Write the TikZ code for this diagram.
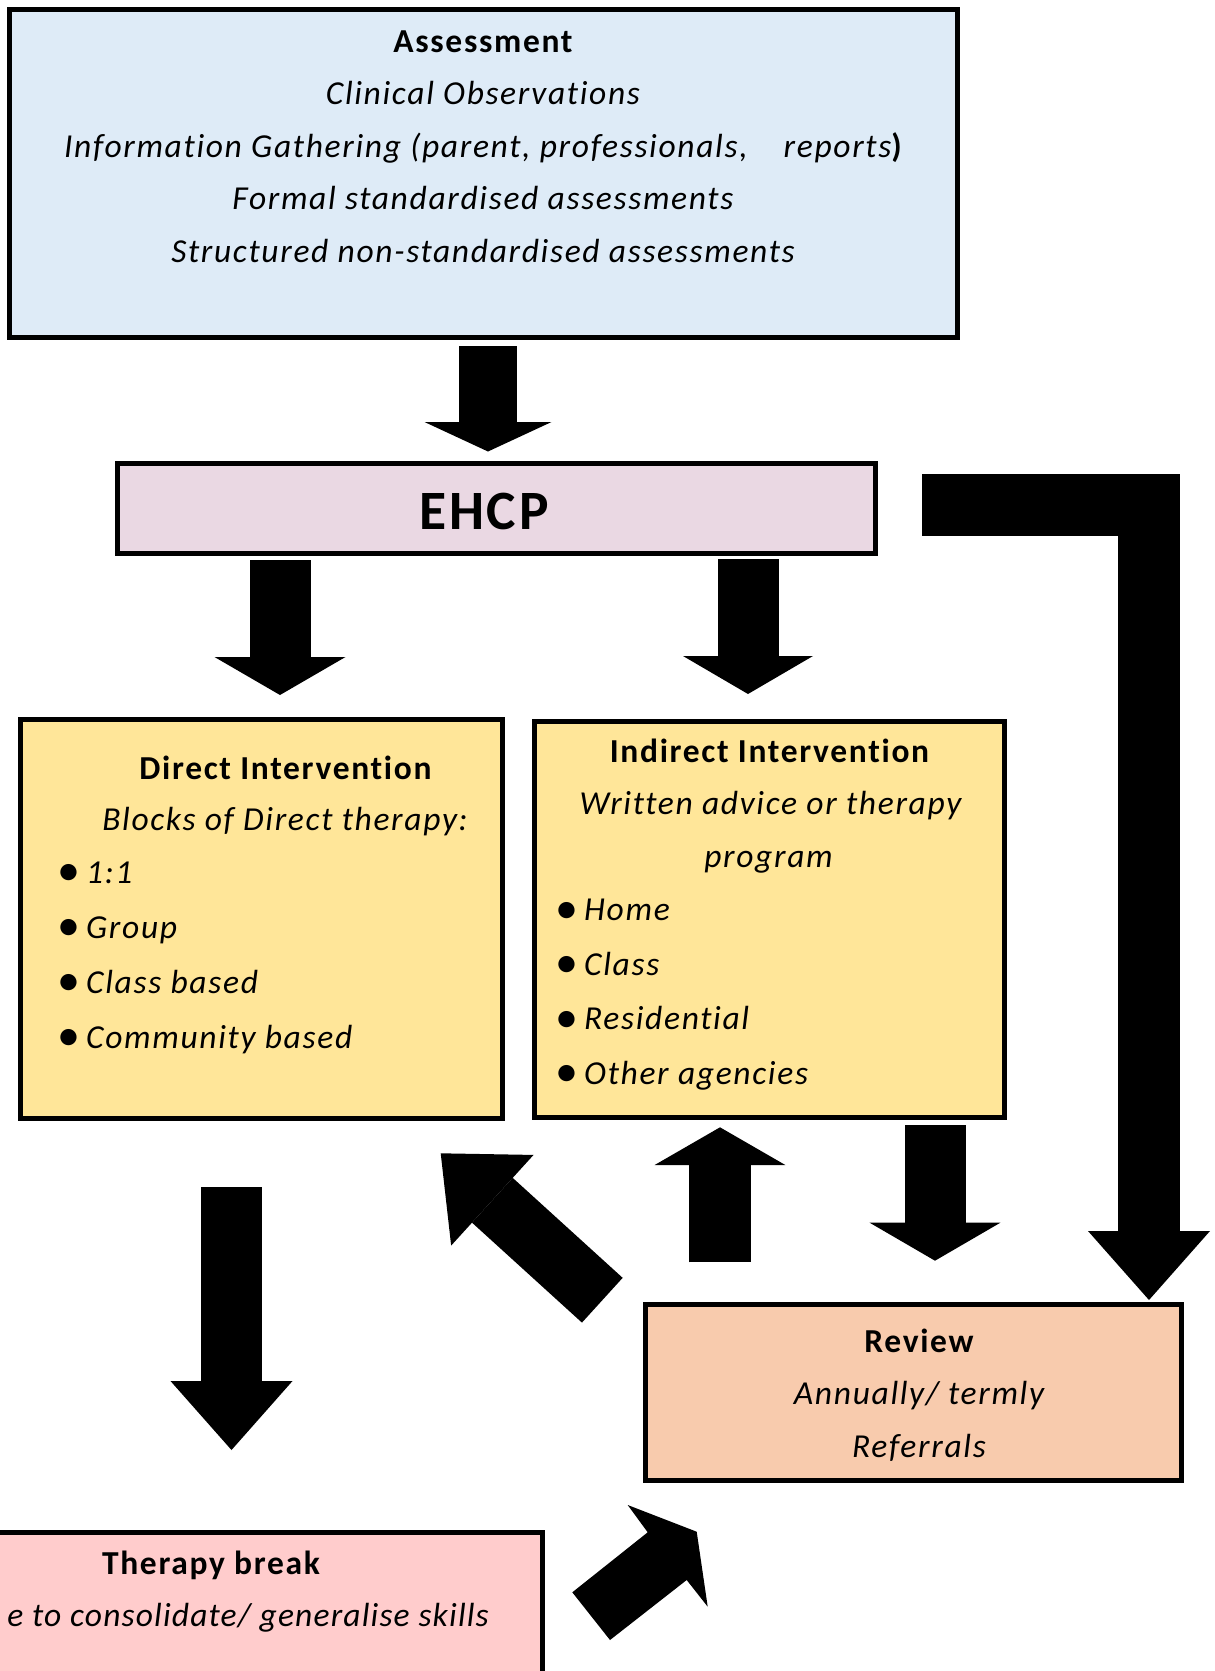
\documentclass[tikz,border=0pt]{standalone}
\usepackage{fontspec}
\setmainfont{Carlito}[Ligatures=NoCommon,LetterSpace=5]
\usepackage{xcolor}
\usetikzlibrary{arrows.meta}
\definecolor{ASSESS-BLUE}{HTML}{DEEBF7}
\definecolor{EHCP-PINK}{HTML}{EAD8E3}
\definecolor{INTERV-YELLOW}{HTML}{FFE699}
\definecolor{REVIEW-PEACH}{HTML}{F8CBAD}
\definecolor{BREAK-PINK}{HTML}{FFCCCC}
\newcommand{\bul}{\makebox[29pt][l]{\upshape\fontsize{46}{46}\selectfont\raisebox{-2.5pt}{\textbullet}}}

\begin{document}
\begin{tikzpicture}[x=1pt,y=-1pt,
	box/.style={draw,line width=5pt,inner sep=0pt},
	head/.style={inner sep=0pt,anchor=base,font=\bfseries\fontsize{33.5}{40}\selectfont},
	txt/.style={inner sep=0pt,anchor=base,font=\itshape\fontsize{33.5}{40}\selectfont},
	bullet/.style={txt,anchor=base west},
	block/.style n args={3}{line width=#1,-{Triangle[width=#2,length=#3,line width=0pt]}}]
			\useasboundingbox (0,0) rectangle (1215,1671);
			\clip (0,0) rectangle (1215,1671);

			% draw boxes
			\node (assess) at (483.25,173) [box,fill=ASSESS-BLUE,minimum width=947.5pt,minimum height=328pt] {};
			\node (ehcp) at (496,508.5) [box,fill=EHCP-PINK,minimum width=758pt,minimum height=90pt] {};
			\node (direct) at (261.25,918.75) [box,fill=INTERV-YELLOW,minimum width=482.5pt,minimum height=398.5pt] {};
			\node (indirect) at (769.25,919.5) [box,fill=INTERV-YELLOW,minimum width=470.5pt,minimum height=396pt] {};
			\node (review) at (913.5,1392.5) [box,fill=REVIEW-PEACH,minimum width=536pt,minimum height=176pt] {};
			\node (tbreak) at (246.25,1626.25) [box,fill=BREAK-PINK,minimum width=592.5pt,minimum height=187.5pt] {};

			% draw texts
			\node (assess_h) at (483,52) [head] {Assessment};
			\node (assess_1) at (483,104) [txt] {Clinical Observations};
			\node (assess_2) at (483,157) [txt] {Information Gathering (parent, professionals,\hspace{0.8em} reports{\upshape\bfseries )}};
			\node (assess_3) at (483,209.5) [txt] {Formal standardised assessments};
			\node (assess_4) at (483,262) [txt] {Structured non-standardised assessments};
			\node (ehcp_h) at (484,529) [head,font=\bfseries\fontsize{55.5}{60}\selectfont] {EHCP};
			\node (direct_h) at (285.5,779) [head] {Direct Intervention};
			\node (direct_s) at (285,830) [txt] {Blocks of Direct therapy:};
			\foreach \txt [count=\i] in {1:1,Group,Class based,Community based}
				\node (direct_\i) at (57,{828+55*\i}) [bullet] {\bul\txt};
			\node (indirect_h) at (769.5,762.7) [head] {Indirect Intervention};
			\node (indirect_s) at (770.5,814) [txt] {Written advice or therapy};
			\node (indirect_t) at (768.5,867.7) [txt] {program};
			\foreach \txt [count=\i] in {Home,Class,Residential,Other agencies}
				\node (indirect_\i) at (555,{866.3+54.5*\i}) [bullet] {\bul\txt};
			\node (review_h) at (919,1352) [head] {Review};
			\node (review_1) at (919,1404) [txt] {Annually/ termly};
			\node (review_2) at (919,1457) [txt] {Referrals};
			\node (tbreak_h) at (211,1574) [head] {Therapy break};
			\node (tbreak_1) at (489,1626) [txt,anchor=base east] {\addfontfeature{LetterSpace=3.5}e to consolidate/ generalise skills};

			% draw arrows
			\coordinate (a_assess) at (488,346);
			\coordinate (a_ehcp) at (488,451.5);
			\coordinate (a_ehcp_l) at (280,560);
			\coordinate (a_direct) at (280,695);
			\coordinate (a_ehcp_r) at (748,559);
			\coordinate (a_indirect) at (748,694);
			\coordinate (a_ehcp_e) at (922,504.5);
			\coordinate (a_corner) at (1149,504.5);
			\coordinate (a_review_n) at (1149,1300);
			\coordinate (a_direct_s) at (231.5,1187);
			\coordinate (a_tbreak) at (231.5,1450);
			\coordinate (a_review_w) at (602.3,1300.2);
			\coordinate (a_direct_se) at (440.7,1153.3);
			\coordinate (a_review_up) at (720,1262.3);
			\coordinate (a_indirect_s) at (720,1127.3);
			\coordinate (a_indirect_se) at (935,1125);
			\coordinate (a_review_ne) at (935,1260.7);
			\draw[block={58pt}{127pt}{29.5pt}] (a_assess) -- (a_ehcp);
			\draw[block={61pt}{131pt}{38pt}] (a_ehcp_l) -- (a_direct);
			\draw[block={61pt}{130pt}{38pt}] (a_ehcp_r) -- (a_indirect);
			\draw[block={62pt}{122pt}{69pt},miter limit=4] (a_ehcp_e) -- (a_corner) -- (a_review_n);
			\draw[block={61pt}{122pt}{69pt}] (a_direct_s) -- (a_tbreak);
			\draw[block={60.5pt}{122.5pt}{69.8pt}] (a_review_w) -- (a_direct_se);
			\draw[block={61.4pt}{130.7pt}{37.7pt}] (a_review_up) -- (a_indirect_s);
			\draw[block={61pt}{130.7pt}{38pt}] (a_indirect_se) -- (a_review_ne);
			\fill (627.7,1505) -- (696.7,1531.7) -- (707.7,1606.7) -- (686.7,1580) -- (610,1640) -- (572.3,1592.3) -- (647.7,1532.3) -- cycle;
		\end{tikzpicture}
\end{document}
